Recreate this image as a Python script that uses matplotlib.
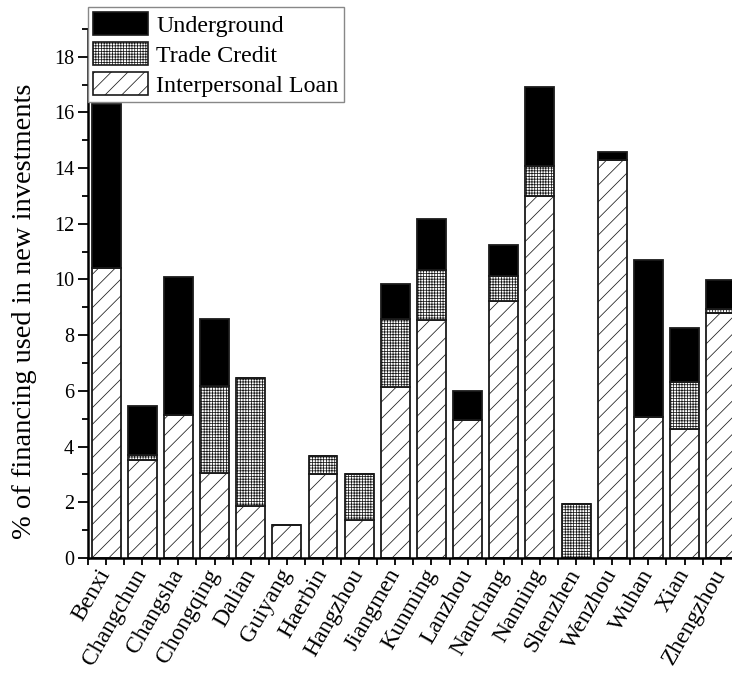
import matplotlib
matplotlib.use("Agg")
import matplotlib.pyplot as plt
import numpy as np
from matplotlib.patches import Patch
from matplotlib.ticker import MultipleLocator

plt.rcParams['font.family'] = ['Liberation Serif', 'DejaVu Serif']
plt.rcParams['hatch.linewidth'] = 0.55
plt.rcParams['hatch.color'] = 'black'

cities = ["Benxi", "Changchun", "Changsha", "Chongqing", "Dalian", "Guiyang",
          "Haerbin", "Hangzhou", "Jiangmen", "Kunming", "Lanzhou", "Nanchang",
          "Nanning", "Shenzhen", "Wenzhou", "Wuhan", "Xian", "Zhengzhou"]

# share of new investment financed by each source (%)
interpersonal = [10.4, 3.52, 5.15, 3.05, 1.88, 1.2, 3.02, 1.37, 6.15,
                 8.53, 4.95, 9.23, 13.0, 0.0, 14.29, 5.06, 4.63, 8.81]
trade_credit = [0.0, 0.17, 0.0, 3.14, 4.59, 0.0, 0.63, 1.63, 2.44,
                1.8, 0.0, 0.9, 1.09, 1.94, 0.0, 0.0, 1.68, 0.12]
underground = [5.9, 1.78, 4.95, 2.38, 0.0, 0.0, 0.0, 0.0, 1.24,
               1.84, 1.04, 1.11, 2.81, 0.0, 0.3, 5.64, 1.96, 1.04]

x = np.arange(len(cities))
width = 0.8
interpersonal = np.array(interpersonal)
trade_credit = np.array(trade_credit)
underground = np.array(underground)

diag = '//'
grid = '++++++'

fig = plt.figure(figsize=(7.32, 6.75), dpi=100)
ax = fig.add_axes([0.1202, 0.1733, 0.889, 0.784])

edge = '#1a1a1a'
ax.bar(x, interpersonal, width, color='white', edgecolor=edge,
       linewidth=1.3, hatch=diag)
ax.bar(x, trade_credit, width, bottom=interpersonal, color='white',
       edgecolor=edge, linewidth=1.3, hatch=grid)
ax.bar(x, underground, width, bottom=interpersonal + trade_credit,
       color='black', edgecolor=edge, linewidth=1.3)

ax.set_xlim(-0.5, 17.5)
ax.set_ylim(0, 19)
ax.yaxis.set_major_locator(MultipleLocator(2))
ax.yaxis.set_minor_locator(MultipleLocator(1))
ax.set_xticks(x)
ax.set_xticks(np.arange(-0.5, 18, 1), minor=True)
ax.set_xticklabels(cities, rotation=60, ha='right', va='center',
                   rotation_mode='anchor', fontsize=17)
for lbl in ax.get_yticklabels():
    lbl.set_fontsize(14.5)

ax.tick_params(axis='y', which='major', direction='out', length=7, width=1.3, pad=3)
ax.tick_params(axis='y', which='minor', direction='out', length=4, width=1.3)
ax.tick_params(axis='x', which='both', direction='out', length=5, width=1.3, pad=4)

for side in ['top', 'right']:
    ax.spines[side].set_visible(False)
for side in ['left', 'bottom']:
    ax.spines[side].set_linewidth(1.8)

fig.text(0.034, 0.539, "% of financing used in new investments",
         rotation=90, ha='center', va='center', fontsize=20.5)

handles = [
    Patch(facecolor='black', edgecolor=edge, linewidth=1.2, label='Underground'),
    Patch(facecolor='white', edgecolor=edge, linewidth=1.2, hatch=grid, label='Trade Credit'),
    Patch(facecolor='white', edgecolor=edge, linewidth=1.2, hatch=diag, label='Interpersonal Loan'),
]
leg = fig.legend(handles=handles, loc='upper left',
                 bbox_to_anchor=(0.1202, 0.989), bbox_transform=fig.transFigure,
                 fontsize=17.3, frameon=True, fancybox=False, framealpha=1,
                 edgecolor='#888888', borderpad=0.2, labelspacing=0.22,
                 handlelength=2.3, handleheight=1.1, handletextpad=0.35,
                 borderaxespad=0)
leg.get_frame().set_linewidth(1.0)

fig.savefig("out.png", dpi=100)
